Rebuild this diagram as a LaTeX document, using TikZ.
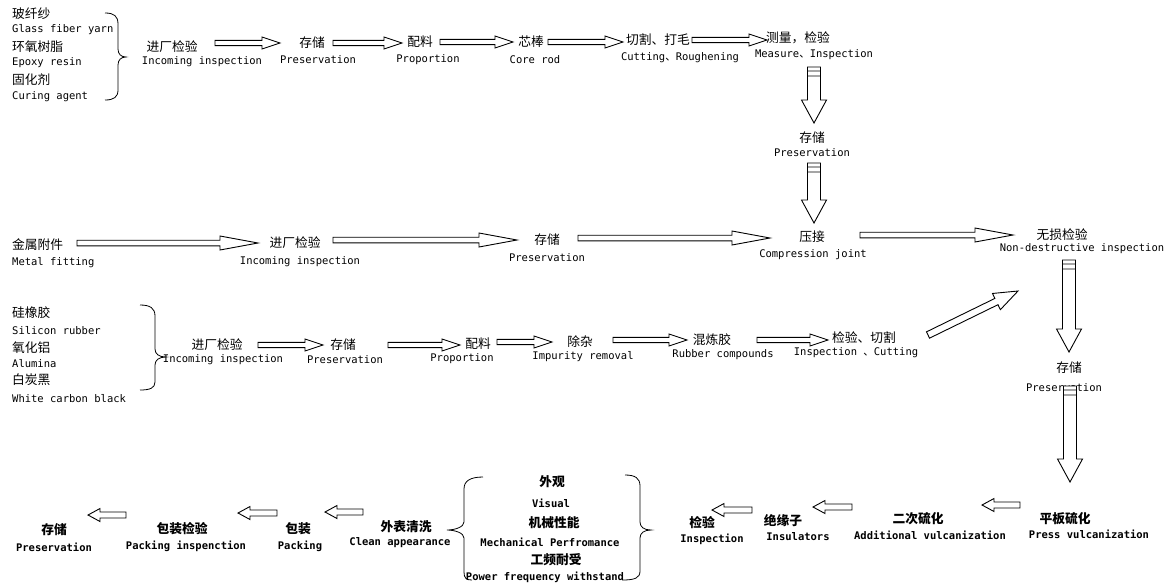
\documentclass[tikz,border=0pt]{standalone}
\usepackage{fontspec}
\newfontfamily\cn{Noto Sans CJK SC}
\newfontfamily\en{DejaVu Sans Mono}
\usetikzlibrary{calc}
\tikzset{
  cnt/.style={font=\cn\fontsize{12.75}{14}\selectfont, inner sep=0pt},
  ent/.style={font=\en\fontsize{10.5}{12}\selectfont, inner sep=0pt},
  cntb/.style={font=\cn\bfseries\fontsize{12.75}{14}\selectfont, inner sep=0pt},
  entb/.style={font=\en\bfseries\fontsize{10.5}{12}\selectfont, inner sep=0pt},
  brc/.style={draw=black, line width=0.8pt},
  blk/.style n args={3}{draw=black, line width=0.9pt, fill=white,
    /utils/exec={\def\bsw{#1}\def\bhw{#2}\def\bhl{#3}},
    to path={let \p1=(\tikztostart), \p2=(\tikztotarget),
      \n1={atan2(\y2-\y1,\x2-\x1)}, \n2={veclen(\x2-\x1,\y2-\y1)} in
      ($(\p1)+(\n1+90:\bsw)$) -- ($(\p1)+(\n1:\n2-\bhl)+(\n1+90:\bsw)$)
      -- ($(\p1)+(\n1:\n2-\bhl)+(\n1+90:\bhw)$) -- (\p2)
      -- ($(\p1)+(\n1:\n2-\bhl)+(\n1-90:\bhw)$)
      -- ($(\p1)+(\n1:\n2-\bhl)+(\n1-90:\bsw)$)
      -- ($(\p1)+(\n1-90:\bsw)$) -- cycle}},
  blkv/.style n args={3}{draw=black, line width=0.9pt, fill=white,
    /utils/exec={\def\bsw{#1}\def\bhw{#2}\def\bhl{#3}},
    to path={let \p1=(\tikztostart), \p2=(\tikztotarget),
      \n1={atan2(\y2-\y1,\x2-\x1)}, \n2={veclen(\x2-\x1,\y2-\y1)} in
      ($(\p1)+(\n1+90:\bsw)$) -- ($(\p1)+(\n1:\n2-\bhl)+(\n1+90:\bsw)$)
      -- ($(\p1)+(\n1:\n2-\bhl)+(\n1+90:\bhw)$) -- (\p2)
      -- ($(\p1)+(\n1:\n2-\bhl)+(\n1-90:\bhw)$)
      -- ($(\p1)+(\n1:\n2-\bhl)+(\n1-90:\bsw)$)
      -- ($(\p1)+(\n1-90:\bsw)$) -- cycle
      ($(\p1)+(\n1:4pt)+(\n1+90:\bsw)$) -- ($(\p1)+(\n1:4pt)+(\n1-90:\bsw)$)
      ($(\p1)+(\n1:9pt)+(\n1+90:\bsw)$) -- ($(\p1)+(\n1:9pt)+(\n1-90:\bsw)$)}},
  harr/.style={blk={2.6pt}{6pt}{18pt}},
  larr/.style={blk={2.8pt}{7pt}{38pt}},
  barr/.style={blk={3pt}{6.5pt}{12pt}},
  darr/.style={blk={3.5pt}{9pt}{24pt}},
  varr/.style={blkv={6.5pt}{12.5pt}{23pt}}
}
\begin{document}
\begin{tikzpicture}[x=1pt,y=-1pt]
\useasboundingbox[fill=white] (0,0) rectangle (1174,582);

% ---------- top row ----------
\node[cnt,anchor=west] (g1) at (12,14) {玻纤纱};
\node[ent,anchor=west] (g2) at (12,30) {Glass fiber yarn};
\node[cnt,anchor=west] (g3) at (12,47) {环氧树脂};
\node[ent,anchor=west] (g4) at (12,63) {Epoxy resin};
\node[cnt,anchor=west] (g5) at (12,80) {固化剂};
\node[ent,anchor=west] (g6) at (12,97) {Curing agent};
\draw[brc] (105,13) .. controls (114,13) and (118,16) .. (118,24) -- (118,49)
  .. controls (118,54) and (121,57) .. (126,57) .. controls (121,57) and (118,60) .. (118,65)
  -- (118,90) .. controls (118,97) and (114,100) .. (105,100);

\node[cnt] (t1c) at (172,47) {进厂检验};
\node[ent] (t1e) at (202,62) {Incoming inspection};
\node[cnt] (t2c) at (312,43) {存储};
\node[ent] (t2e) at (318,60) {Preservation};
\node[cnt] (t3c) at (420,42) {配料};
\node[ent] (t3e) at (428,60) {Proportion};
\node[cnt] (t4c) at (531,42) {芯棒};
\node[ent] (t4e) at (535,60) {Core rod};
\node[cnt] (t5c) at (658,40) {切割、打毛};
\node[ent] (t5e) at (680,58) {Cutting{\cn 、}Roughening};
\node[cnt] (t6c) at (798,38) {测量，检验};
\node[ent] (t6e) at (814,55) {Measure{\cn 、}Inspection};
\node[cnt] (t7c) at (812,138) {存储};
\node[ent] (t7e) at (812,153) {Preservation};
\node[cnt] (t8c) at (812,237) {压接};
\node[ent] (t8e) at (813,255) {Compression joint};
\node[cnt] (t9c) at (1062,235) {无损检验};
\node[ent] (t9e) at (1082,249) {Non-destructive inspection};
\node[cnt] (t10c) at (1069,368) {存储};
\node[ent] (t10e) at (1064,388) {Preservation};

% ---------- metal row ----------
\node[cnt,anchor=west] (f1c) at (12,245) {金属附件};
\node[ent,anchor=west] (f1e) at (12,263) {Metal fitting};
\node[cnt] (f2c) at (295,243) {进厂检验};
\node[ent] (f2e) at (300,262) {Incoming inspection};
\node[cnt] (f3c) at (547,240) {存储};
\node[ent] (f3e) at (547,258) {Preservation};

% ---------- silicon row ----------
\node[cnt,anchor=west] (h1) at (12,313) {硅橡胶};
\node[ent,anchor=west] (h2) at (12,331) {Silicon rubber};
\node[cnt,anchor=west] (h3) at (12,348) {氧化铝};
\node[ent,anchor=west] (h4) at (12,364) {Alumina};
\node[cnt,anchor=west] (h5) at (12,380) {白炭黑};
\node[ent,anchor=west] (h6) at (12,399) {White carbon black};
\draw[brc] (140,305) .. controls (150,305) and (155,308) .. (155,316) -- (155,349)
  .. controls (155,354) and (159,357) .. (166,357) .. controls (159,357) and (155,360) .. (155,365)
  -- (155,382) .. controls (155,388) and (150,390) .. (140,390);

\node[cnt] (r1c) at (217,345) {进厂检验};
\node[ent] (r1e) at (223,360) {Incoming inspection};
\node[cnt] (r2c) at (343,345) {存储};
\node[ent] (r2e) at (345,360) {Preservation};
\node[cnt] (r3c) at (478,344) {配料};
\node[ent] (r3e) at (462,359) {Proportion};
\node[cnt] (r4c) at (580,342) {除杂};
\node[ent] (r4e) at (583,357) {Impurity removal};
\node[cnt] (r5c) at (712,340) {混炼胶};
\node[ent] (r5e) at (723,355) {Rubber compounds};
\node[cnt] (r6c) at (864,338) {检验、切割};
\node[ent] (r6e) at (856,353) {Inspection {\cn 、}Cutting};

% ---------- bottom row ----------
\node[cntb] (p1c) at (1065,519) {平板硫化};
\node[entb] (p1e) at (1089,534) {Press vulcanization};
\node[cntb] (p2c) at (918,519) {二次硫化};
\node[entb] (p2e) at (930,535) {Additional vulcanization};
\node[cntb] (p3c) at (783,521) {绝缘子};
\node[entb] (p3e) at (798,537) {Insulators};
\node[cntb] (p4c) at (702,523) {检验};
\node[entb] (p4e) at (712,539) {Inspection};
\node[cntb] (q1) at (552,482) {外观};
\node[entb] (q2) at (551,503) {Visual};
\node[cntb] (q3) at (554,523) {机械性能};
\node[entb] (q4) at (550,542) {Mechanical Perfromance};
\node[cntb] (q5) at (556,560) {工频耐受};
\node[entb] (q6) at (545,577) {Power frequency withstand};
\draw[brc] (625,475) .. controls (635,475) and (640,478) .. (640,486) -- (640,522)
  .. controls (640,527) and (644,530) .. (651,530) .. controls (644,530) and (640,533) .. (640,538)
  -- (640,571) .. controls (640,578) and (635,580) .. (622,580);
\draw[brc] (483,477) .. controls (470,477) and (464,481) .. (464,489) -- (464,522)
  .. controls (464,527) and (455,530) .. (447,530) .. controls (455,530) and (464,533) .. (464,538)
  -- (464,572) .. controls (464,578) and (466,580) .. (472,580);
\node[cntb] (p5c) at (406,527) {外表清洗};
\node[entb] (p5e) at (400,543) {Clean appearance};
\node[cntb] (p6c) at (298,529) {包装};
\node[entb] (p6e) at (300,546) {Packing};
\node[cntb] (p7c) at (182,529) {包装检验};
\node[entb] (p7e) at (186,546) {Packing inspenction};
\node[cntb] (p8c) at (54,530) {存储};
\node[entb] (p8e) at (54,547) {Preservation};

% ---------- arrow end points ----------
\coordinate (a1s) at (215,43);  \coordinate (a1e) at (280,43);
\coordinate (a2s) at (333,43);  \coordinate (a2e) at (402,43);
\coordinate (a3s) at (440,42);  \coordinate (a3e) at (513,42);
\coordinate (a4s) at (548,42);  \coordinate (a4e) at (623,42);
\coordinate (a5s) at (692,40);  \coordinate (a5e) at (767,40);
\coordinate (v1s) at (814,67);  \coordinate (v1e) at (814,123);
\coordinate (v2s) at (814,163); \coordinate (v2e) at (814,223);
\coordinate (a6s) at (860,235); \coordinate (a6e) at (1013,235);
\coordinate (v3s) at (1069,260); \coordinate (v3e) at (1069,352);
\coordinate (v4s) at (1070,386); \coordinate (v4e) at (1070,482);
\coordinate (m1s) at (77,243);  \coordinate (m1e) at (258,243);
\coordinate (m2s) at (333,240); \coordinate (m2e) at (517,240);
\coordinate (m3s) at (578,238); \coordinate (m3e) at (770,238);
\coordinate (s1s) at (258,345); \coordinate (s1e) at (323,345);
\coordinate (s2s) at (388,345); \coordinate (s2e) at (460,345);
\coordinate (s3s) at (497,342); \coordinate (s3e) at (552,342);
\coordinate (s4s) at (613,340); \coordinate (s4e) at (687,340);
\coordinate (s5s) at (757,340); \coordinate (s5e) at (828,340);
\coordinate (d1s) at (928,335); \coordinate (d1e) at (1018,291);
\coordinate (b1s) at (1020,505); \coordinate (b1e) at (982,505);
\coordinate (b2s) at (852,507); \coordinate (b2e) at (813,507);
\coordinate (b3s) at (752,510); \coordinate (b3e) at (712,510);
\coordinate (b4s) at (363,512); \coordinate (b4e) at (325,512);
\coordinate (b5s) at (277,513); \coordinate (b5e) at (238,513);
\coordinate (b6s) at (126,515); \coordinate (b6e) at (88,515);

% ---------- arrows ----------
\draw[harr] (a1s) to (a1e);
\draw[harr] (a2s) to (a2e);
\draw[harr] (a3s) to (a3e);
\draw[harr] (a4s) to (a4e);
\draw[harr] (a5s) to (a5e);
\draw[varr] (v1s) to (v1e);
\draw[varr] (v2s) to (v2e);
\draw[larr] (a6s) to (a6e);
\draw[varr] (v3s) to (v3e);
\draw[varr] (v4s) to (v4e);
\draw[larr] (m1s) to (m1e);
\draw[larr] (m2s) to (m2e);
\draw[larr] (m3s) to (m3e);
\draw[harr] (s1s) to (s1e);
\draw[harr] (s2s) to (s2e);
\draw[harr] (s3s) to (s3e);
\draw[harr] (s4s) to (s4e);
\draw[harr] (s5s) to (s5e);
\draw[darr] (d1s) to (d1e);
\draw[barr] (b1s) to (b1e);
\draw[barr] (b2s) to (b2e);
\draw[barr] (b3s) to (b3e);
\draw[barr] (b4s) to (b4e);
\draw[barr] (b5s) to (b5e);
\draw[barr] (b6s) to (b6e);
\end{tikzpicture}
\end{document}
